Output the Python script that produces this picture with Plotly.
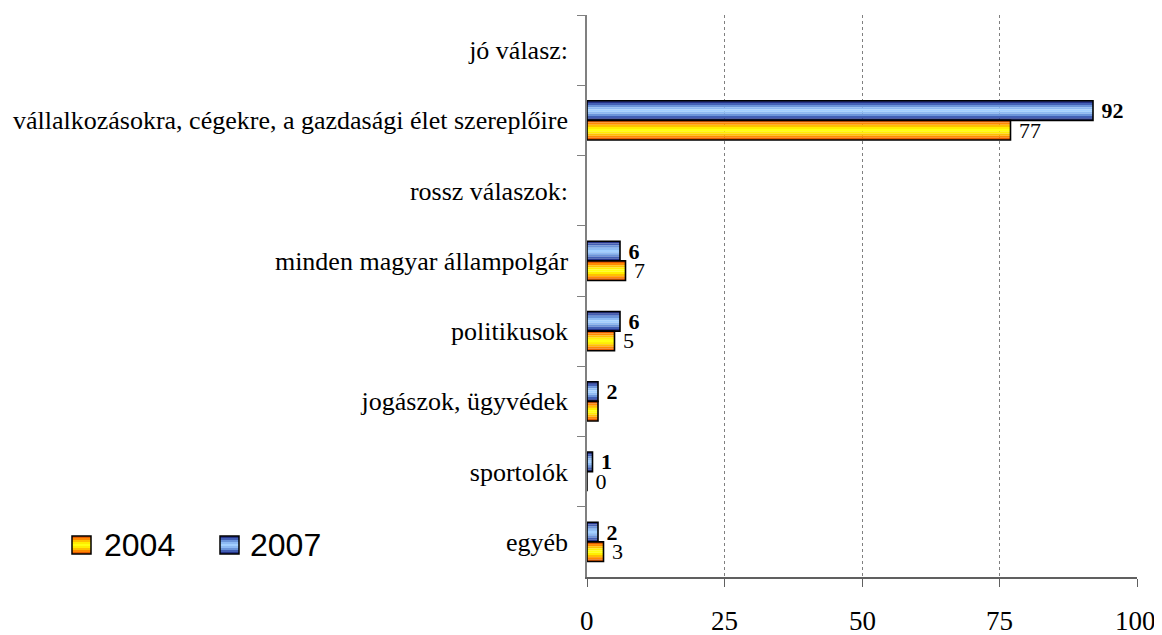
import plotly.graph_objects as go

categories = [
    "jó válasz:",
    "vállalkozásokra, cégekre, a gazdasági élet szereplőire",
    "rossz válaszok:",
    "minden magyar állampolgár",
    "politikusok",
    "jogászok, ügyvédek",
    "sportolók",
    "egyéb",
]
values_2004 = [None, 77, None, 7, 5, 2, 0, 3]
values_2007 = [None, 92, None, 6, 6, 2, 1, 2]
labels_2004 = ["", "77", "", "7", "5", "", "0", "3"]
labels_2007 = ["", "92", "", "6", "6", "2", "1", "2"]
series_names = ["2004", "2007"]
x_ticks = [0, 25, 50, 75, 100]

stripes_2004 = ['#E65C00', '#FF8A00', '#FFC000', '#FFEE00', '#FFFF10',
                '#FFEE00', '#FFC000', '#FF8A00', '#E65C00']
stripes_2007 = ['#26348A', '#4360B5', '#6B95DA', '#8DBAF3', '#A2CFFF',
                '#8DBAF3', '#6B95DA', '#4360B5', '#26348A']

BW = 0.28
SERIF = "Liberation Serif"
SANS = "Liberation Sans"

# page body has an 8px margin; figure sized so the plot area lands at
# x 587..1137, y 15..577 in the window
W, H = 1154, 627
L, T = 579, 7
PW, PH = 550, 562

fig = go.Figure()

series = [
    (values_2007, labels_2007, stripes_2007, -BW, "bold"),
    (values_2004, labels_2004, stripes_2004, 0.0, "normal"),
]

for vals, labs, stripes, off, weight in series:
    n = len(stripes)
    for k, c in enumerate(stripes):
        fig.add_trace(go.Bar(
            y=categories, x=vals, orientation="h",
            width=BW / n, offset=off + k * BW / n,
            marker=dict(color=c, line=dict(width=0)),
            showlegend=False, hoverinfo="skip",
        ))
    fig.add_trace(go.Bar(
        y=categories, x=vals, orientation="h",
        width=BW, offset=off,
        marker=dict(color="rgba(0,0,0,0)", line=dict(color="black", width=1.6)),
        text=[(" " + t) if t else "" for t in labs],
        textposition="outside", cliponaxis=False, constraintext="none",
        textfont=dict(family=SERIF, size=22, color="black", weight=weight),
        showlegend=False, hoverinfo="skip",
    ))

def px_to_paper_x(px):
    return (px - (L + 8)) / PW

def px_to_paper_y(py):
    return ((T + 8) + PH - py) / PH

# x tick labels, placed well below the axis as in the reference
for t in x_ticks:
    fig.add_annotation(text=str(t), xref="x", yref="paper",
                       x=t, y=px_to_paper_y(604), xanchor="center", yanchor="top",
                       xshift=-2 if t == x_ticks[-1] else 0,
                       showarrow=False,
                       font=dict(family=SERIF, size=27, color="black"))

# manual legend (gradient swatches)
legend_items = [
    (series_names[0], stripes_2004, 72, 102),
    (series_names[1], stripes_2007, 220, 248),
]
sw_top, sw_bot = 536, 554
for name, stripes, ix, tx in legend_items:
    n = len(stripes)
    h = (sw_bot - sw_top) / n
    for k, c in enumerate(stripes):
        fig.add_shape(type="rect", xref="paper", yref="paper",
                      x0=px_to_paper_x(ix), x1=px_to_paper_x(ix + 19),
                      y0=px_to_paper_y(sw_top + k * h),
                      y1=px_to_paper_y(sw_top + (k + 1) * h),
                      fillcolor=c, line=dict(width=0), layer="above")
    fig.add_shape(type="rect", xref="paper", yref="paper",
                  x0=px_to_paper_x(ix), x1=px_to_paper_x(ix + 19),
                  y0=px_to_paper_y(sw_top), y1=px_to_paper_y(sw_bot),
                  fillcolor="rgba(0,0,0,0)", line=dict(color="black", width=1.5),
                  layer="above")
    fig.add_annotation(text=name, xref="paper", yref="paper",
                       x=px_to_paper_x(tx), y=px_to_paper_y(545),
                       xanchor="left", yanchor="middle", showarrow=False,
                       font=dict(family=SANS, size=32, color="black"))

fig.update_layout(
    width=W, height=H,
    barmode="overlay",
    showlegend=False,
    plot_bgcolor="white", paper_bgcolor="white",
    margin=dict(l=L, r=W - L - PW, t=T, b=H - T - PH, autoexpand=False),
    xaxis=dict(
        range=[0, 100], tickvals=x_ticks, showticklabels=False,
        showgrid=True, gridcolor="#808080", griddash="dot", gridwidth=1,
        showline=True, linecolor="#606060", linewidth=1.5,
        ticks="outside", ticklen=8, tickcolor="#606060",
        zeroline=False, automargin=False,
    ),
    yaxis=dict(
        type="category", categoryorder="array", categoryarray=categories,
        range=[7.5, -0.5], showgrid=False,
        showline=True, linecolor="#808080", linewidth=1.5,
        ticks="outside", tickson="boundaries", ticklen=8, tickcolor="#808080",
        ticklabelstandoff=12, automargin=False,
        tickfont=dict(family=SERIF, size=26, color="black"),
    ),
)

fig.write_html("out.html")
